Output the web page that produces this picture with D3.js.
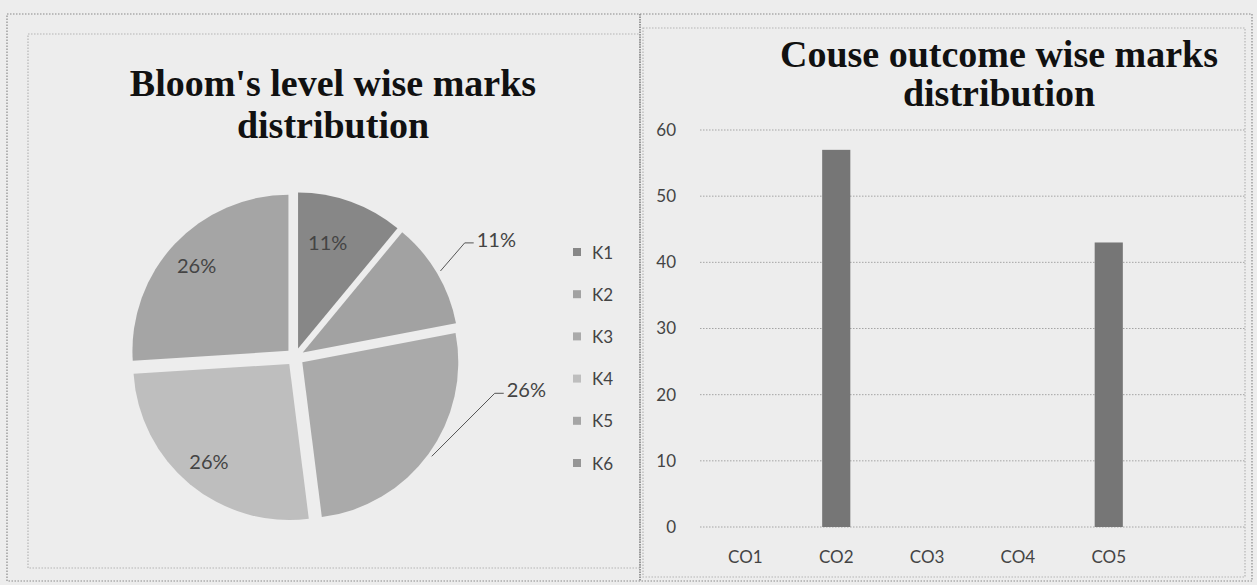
<!DOCTYPE html>
<html>
<head>
<meta charset="utf-8">
<script src="https://cdn.jsdelivr.net/npm/d3@7"></script>
<style>
  html, body { margin: 0; padding: 0; background: #ededed; }
  svg { display: block; }
  .title { font-family: "Liberation Serif", serif; font-weight: bold; fill: #111; }
  .lbl { font-family: Lato, "Open Sans", sans-serif; fill: #444; }
</style>
</head>
<body>
<svg id="chart" width="1257" height="585"></svg>
<script>
// ---- data ----
const bloomLevels = ["K1", "K2", "K3", "K4", "K5", "K6"];
const bloomShare  = [11, 11, 26, 26, 26, 0];          // percent of marks
const bloomColors = ["#878787", "#a2a2a2", "#aaaaaa", "#bebebe", "#a5a5a5", "#969696"];

const outcomes     = ["CO1", "CO2", "CO3", "CO4", "CO5", ""];
const outcomeMarks = [0, 57, 0, 0, 43, 0];
const yTicks       = [0, 10, 20, 30, 40, 50, 60];

const svg = d3.select("#chart");

// ---- frames ----
const frame = (x0, y0, x1, y1, color) =>
  svg.append("rect").attr("x", x0).attr("y", y0).attr("width", x1 - x0).attr("height", y1 - y0)
    .attr("fill", "none").attr("stroke", color).attr("stroke-width", 1.2)
    .attr("stroke-dasharray", "1.5,1.5");
frame(7, 14, 1252, 581, "#8a8a8a");
frame(28, 34, 640, 568, "#b5b5b5");
svg.append("line").attr("x1", 640).attr("x2", 640).attr("y1", 14).attr("y2", 581)
  .attr("stroke", "#9a9a9a").attr("stroke-width", 2).attr("stroke-dasharray", "1.5,1");
frame(643, 28, 1245, 577, "#b5b5b5");

// ---- pie: Bloom's levels ----
const cx = 295, cy = 357, R = 156, explode = 9;
const pieData = d3.pie().sort(null).value(d => d.v)
  (bloomLevels.map((k, i) => ({ k, v: bloomShare[i], c: bloomColors[i] })));
const arc = d3.arc().innerRadius(0).outerRadius(R);
const pieG = svg.append("g").attr("transform", `translate(${cx},${cy})`);

const mid = d => (d.startAngle + d.endAngle) / 2;
const polar = (a, r) => [Math.sin(a) * r, -Math.cos(a) * r];

pieG.selectAll("path.slice").data(pieData.filter(d => d.value > 0)).join("path")
  .attr("class", "slice")
  .attr("d", arc)
  .attr("fill", d => d.data.c)
  .attr("transform", d => { const [x, y] = polar(mid(d), explode); return `translate(${x},${y})`; });

// label placement: "in" = inside slice, otherwise outside with a leader line
const labelMode = { K1: "in", K2: "out", K3: "out", K4: "in", K5: "in" };
const outAngle  = { K2: null, K3: 98 };   // degrees; null = slice mid-angle
pieData.filter(d => d.value > 0).forEach(d => {
  const txt = Math.round(d.value) + "%";
  if (labelMode[d.data.k] === "in") {
    const a = d.data.k === "K1" ? mid(d) - 0.07 : mid(d);
    const [x, y] = polar(a, d.data.k === "K1" ? 120 : 135);
    pieG.append("text").attr("class", "lbl").attr("x", x).attr("y", y)
      .attr("text-anchor", "middle").attr("dominant-baseline", "central")
      .attr("font-size", 20).text(txt);
  } else {
    const a = outAngle[d.data.k] == null ? mid(d) : outAngle[d.data.k] * Math.PI / 180;
    const [lx, ly] = polar(a, 232);
    const left = lx - 18;
    const [px, py] = polar(mid(d), R + explode + 4);
    pieG.append("polyline")
      .attr("points", [[px, py], [left - 12, ly + 4], [left - 3, ly + 4]].map(p => p.join(",")).join(" "))
      .attr("fill", "none").attr("stroke", "#555").attr("stroke-width", 1);
    pieG.append("text").attr("class", "lbl").attr("x", left).attr("y", ly)
      .attr("dominant-baseline", "central").attr("font-size", 20).text(txt);
  }
});

// legend
const legend = svg.append("g").attr("transform", "translate(573,252)");
const lg = legend.selectAll("g").data(bloomLevels).join("g")
  .attr("transform", (d, i) => `translate(0,${i * 42.2})`);
lg.append("rect").attr("x", 0).attr("y", -4).attr("width", 8).attr("height", 8)
  .attr("fill", (d, i) => bloomColors[i]);
lg.append("text").attr("class", "lbl").attr("x", 19).attr("y", 0)
  .attr("dominant-baseline", "central").attr("font-size", 17).attr("fill", "#555").text(d => d);

// title
svg.append("text").attr("class", "title").attr("x", 333).attr("y", 96)
  .attr("text-anchor", "middle").attr("font-size", 38).text("Bloom's level wise marks");
svg.append("text").attr("class", "title").attr("x", 333).attr("y", 138)
  .attr("text-anchor", "middle").attr("font-size", 38).text("distribution");

// ---- bar chart: course outcomes ----
const plot = { left: 700, right: 1245, top: 130, bottom: 527 };
const x = d3.scaleBand().domain(outcomes.map((d, i) => i)).range([plot.left, plot.right]).paddingInner(0.69).paddingOuter(0.345);
const y = d3.scaleLinear().domain([0, 60]).range([plot.bottom, plot.top]);

svg.append("g").selectAll("line").data(yTicks).join("line")
  .attr("x1", plot.left).attr("x2", plot.right)
  .attr("y1", d => y(d)).attr("y2", d => y(d))
  .attr("stroke", "#a5a5a5").attr("stroke-width", 1).attr("stroke-dasharray", "1.5,1.5");

svg.append("g").selectAll("rect").data(outcomeMarks).join("rect")
  .attr("x", (d, i) => x(i)).attr("width", x.bandwidth())
  .attr("y", d => y(d)).attr("height", d => y(0) - y(d))
  .attr("fill", "#767676");

const yAxis = svg.append("g").attr("transform", `translate(${plot.left},0)`)
  .call(d3.axisLeft(y).tickValues(yTicks).tickSize(0).tickPadding(24));
yAxis.select(".domain").remove();
yAxis.selectAll("text").attr("class", "lbl").attr("font-size", 17).attr("fill", "#555");

const xAxis = svg.append("g").attr("transform", `translate(0,${plot.bottom})`)
  .call(d3.axisBottom(x).tickFormat(i => outcomes[i]).tickSize(0).tickPadding(24));
xAxis.select(".domain").remove();
xAxis.selectAll("text").attr("class", "lbl").attr("font-size", 17).attr("fill", "#555");

svg.append("text").attr("class", "title").attr("x", 999).attr("y", 67)
  .attr("text-anchor", "middle").attr("font-size", 38).text("Couse outcome wise marks");
svg.append("text").attr("class", "title").attr("x", 999).attr("y", 106)
  .attr("text-anchor", "middle").attr("font-size", 38).text("distribution");
</script>
</body>
</html>
